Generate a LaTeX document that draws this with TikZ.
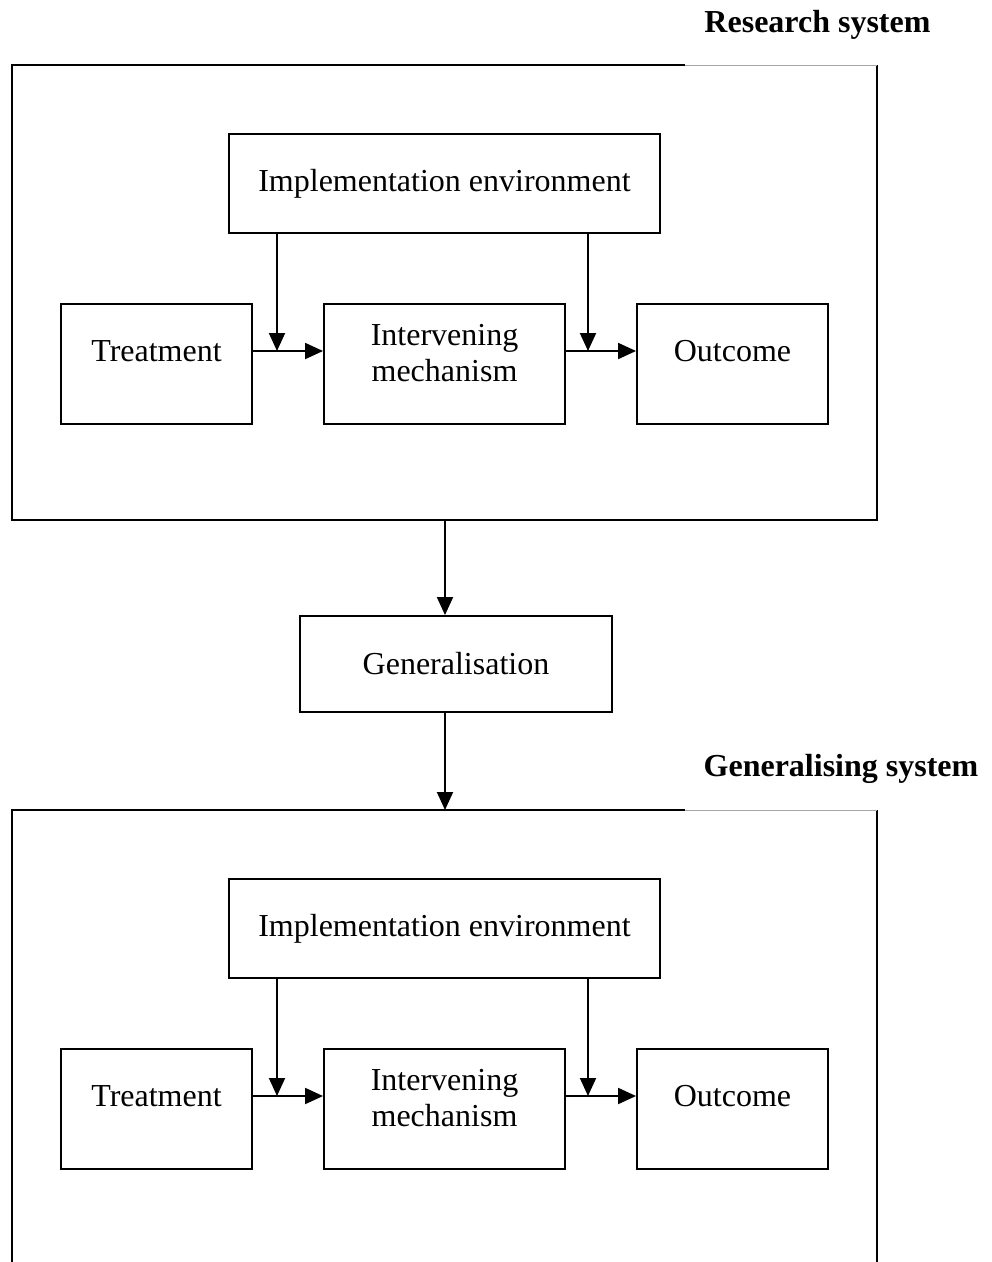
\documentclass[tikz,border=0pt]{standalone}
\usepackage{fontspec}
\setmainfont{Liberation Serif}
\usetikzlibrary{arrows.meta}

\tikzset{
  box/.style={draw, line width=1.9pt, inner sep=0pt, align=center, font=\fontsize{32}{36}\selectfont},
  txt/.style={align=center, font=\fontsize{32}{36}\selectfont},
  ttl/.style={font=\bfseries\fontsize{32}{36}\selectfont},
  arr/.style={line width=1.9pt, -{Triangle[length=18pt,width=16pt]}},
  frame/.style={line width=2pt},
  faint/.style={line width=0.8pt, gray!70}
}

\begin{document}
\begin{tikzpicture}[x=1pt,y=-1pt]
  \useasboundingbox (0,0) rectangle (992,1262);

  % the two systems
  \foreach \dy/\s in {0/r,745/g}{
    \node[box, minimum width=431, minimum height=99] (impl\s) at (444.5,{183.5+\dy}) {Implementation environment};
    \node[box, minimum width=191, minimum height=120] (treat\s) at (156.5,{364+\dy}) {};
    \node[box, minimum width=241, minimum height=120] (mech\s) at (444.5,{364+\dy}) {};
    \node[box, minimum width=191, minimum height=120] (out\s) at (732.5,{364+\dy}) {};
    \node[txt] (treattxt\s) at (156.5,{351+\dy}) {Treatment};
    \node[txt] (mechtxt\s) at (444.5,{353+\dy}) {Intervening\\mechanism};
    \node[txt] (outtxt\s) at (732.5,{351+\dy}) {Outcome};
    \coordinate (ja\s) at (277,{351+\dy});
    \coordinate (jb\s) at (588,{351+\dy});
    \draw[arr] (treat\s.east |- ja\s) -- (mech\s.west |- ja\s);
    \draw[arr] (mech\s.east |- jb\s) -- (out\s.west |- jb\s);
    \draw[arr] (impl\s.south -| ja\s) -- (ja\s);
    \draw[arr] (impl\s.south -| jb\s) -- (jb\s);
  }

  % frames
  \draw[frame] (685,65) -- (12,65) -- (12,520) -- (877,520) -- (877,65);
  \draw[faint] (685,65) -- (877,65);
  \draw[frame] (685,810) -- (12,810) -- (12,1262);
  \draw[frame] (877,810) -- (877,1262);
  \draw[faint] (685,810) -- (877,810);

  \node[ttl] (rstitle) at (817.5,25) {Research system};
  \node[ttl] (gstitle) at (841,769) {Generalising system};

  % generalisation step
  \node[box, minimum width=312, minimum height=96] (gen) at (456,664) {Generalisation};
  \coordinate (rsbot) at (445,520);
  \coordinate (gstop) at (445,810);
  \draw[arr] (rsbot) -- (rsbot |- gen.north);
  \draw[arr] (gen.south -| gstop) -- (gstop);
\end{tikzpicture}
\end{document}
